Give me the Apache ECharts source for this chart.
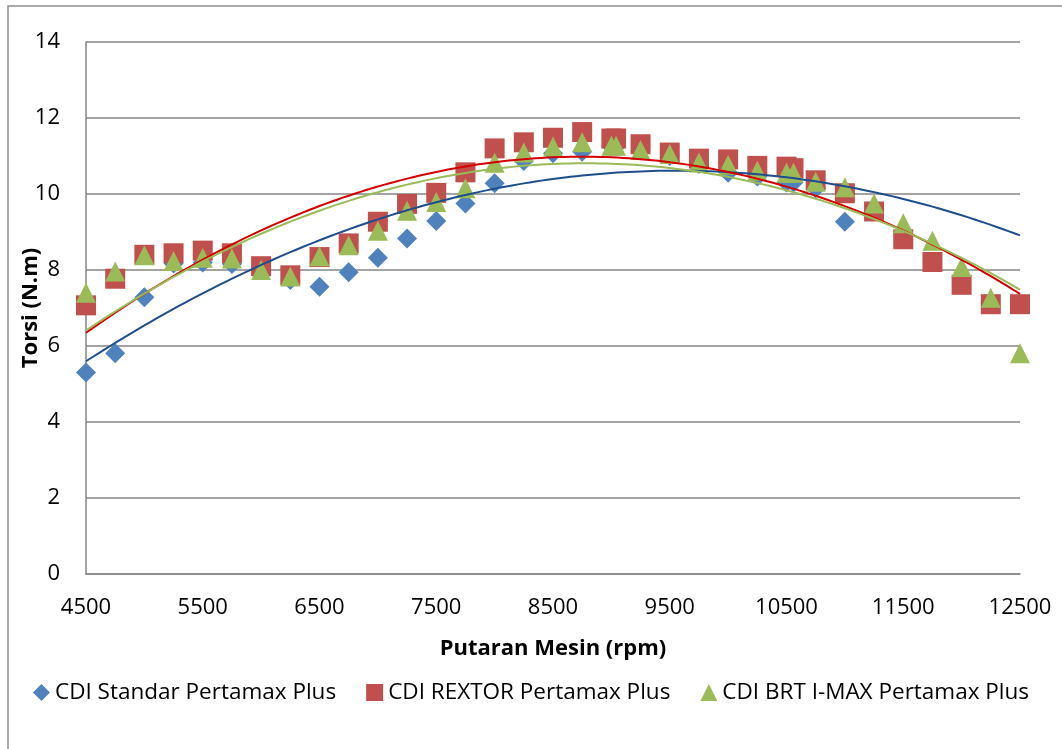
<!DOCTYPE html>
<html>
<head>
<meta charset="utf-8">
<script src="https://cdn.jsdelivr.net/npm/echarts@6/dist/echarts.min.js"></script>
<style>
  html, body { margin: 0; padding: 0; background: #ffffff; }
  #chart { width: 1062px; height: 749px; }
</style>
</head>
<body>
<div id="chart"></div>
<script>
// Engine speed (rpm) for each measurement
const rpmStandar = [4500, 4750, 5000, 5250, 5500, 5750, 6000, 6250, 6500, 6750, 7000, 7250, 7500, 7750,
  8000, 8250, 8500, 8750, 9000, 9040, 9250, 9500, 9750, 10000, 10250, 10500, 10560, 10750, 11000];
const rpmFull = [4500, 4750, 5000, 5250, 5500, 5750, 6000, 6250, 6500, 6750, 7000, 7250, 7500, 7750,
  8000, 8250, 8500, 8750, 9000, 9040, 9250, 9500, 9750, 10000, 10250, 10500, 10560, 10750, 11000,
  11250, 11500, 11750, 12000, 12250, 12500];

// Torque (N.m)
const torsiStandar = [5.30, 5.81, 7.28, 8.17, 8.20, 8.16, 8.02, 7.74, 7.56, 7.94, 8.32, 8.83, 9.29, 9.75,
  10.28, 10.87, 11.07, 11.11, 11.25, 11.25, 11.15, 11.00, 10.79, 10.56, 10.46, 10.30, 10.30, 10.15, 9.27];
const torsiRextor = [7.07, 7.77, 8.40, 8.44, 8.51, 8.44, 8.10, 7.86, 8.34, 8.70, 9.27, 9.74, 10.03, 10.57,
  11.20, 11.36, 11.48, 11.63, 11.46, 11.46, 11.31, 11.09, 10.93, 10.91, 10.74, 10.72, 10.68, 10.36, 10.02,
  9.54, 8.81, 8.21, 7.61, 7.10, 7.10];
const torsiBrt = [7.40, 7.96, 8.39, 8.24, 8.32, 8.30, 8.00, 7.83, 8.36, 8.65, 9.03, 9.56, 9.79, 10.15,
  10.82, 11.09, 11.25, 11.36, 11.27, 11.27, 11.16, 11.05, 10.83, 10.77, 10.61, 10.56, 10.56, 10.32, 10.18,
  9.75, 9.23, 8.77, 8.08, 7.27, 5.81];

const seriesNames = ['CDI Standar Pertamax Plus', 'CDI REXTOR Pertamax Plus', 'CDI BRT I-MAX Pertamax Plus'];
const xTickLabels = [4500, 5500, 6500, 7500, 8500, 9500, 10500, 11500, 12500];
const yTickLabels = [0, 2, 4, 6, 8, 10, 12, 14];

// Second-order least-squares fit, evaluated across the axis range
function polyTrend(xs, ys, from, to, step) {
  const s = [0, 0, 0, 0, 0], t = [0, 0, 0];
  xs.forEach((xv, i) => {
    const x = xv / 1000;
    let p = 1;
    for (let k = 0; k < 5; k++) { s[k] += p; if (k < 3) t[k] += p * ys[i]; p *= x; }
  });
  const A = [[s[0], s[1], s[2], t[0]], [s[1], s[2], s[3], t[1]], [s[2], s[3], s[4], t[2]]];
  for (let c = 0; c < 3; c++) {
    for (let r = c + 1; r < 3; r++) {
      const f = A[r][c] / A[c][c];
      for (let k = c; k < 4; k++) A[r][k] -= f * A[c][k];
    }
  }
  const b = [0, 0, 0];
  for (let r = 2; r >= 0; r--) {
    let v = A[r][3];
    for (let k = r + 1; k < 3; k++) v -= A[r][k] * b[k];
    b[r] = v / A[r][r];
  }
  const out = [];
  for (let xv = from; xv <= to; xv += step) {
    const x = xv / 1000;
    out.push([xv, b[0] + b[1] * x + b[2] * x * x]);
  }
  return out;
}

const pairs = (xs, ys) => xs.map((x, i) => [x, ys[i]]);

const FONT = '"Open Sans", "Noto Sans", sans-serif';

const chart = echarts.init(document.getElementById('chart'), null, { renderer: 'canvas' });

chart.setOption({
  backgroundColor: '#ffffff',
  animation: false,
  textStyle: { fontFamily: FONT, color: '#000000' },
  graphic: [{
    type: 'rect',
    silent: true,
    shape: { x: 8, y: 6, width: 1200, height: 900 },
    style: { fill: 'none', stroke: '#8e8e8e', lineWidth: 1.5 }
  }],
  grid: { left: 86, right: 42, top: 42, bottom: 175, containLabel: false, outerBoundsMode: 'none' },
  legend: {
    data: seriesNames,
    bottom: 40,
    left: 'center',
    itemWidth: 17,
    itemHeight: 17,
    itemGap: 30,
    textStyle: { fontFamily: FONT, fontSize: 22.5, color: '#000000' }
  },
  xAxis: {
    type: 'value',
    min: 4500,
    max: 12500,
    name: 'Putaran Mesin (rpm)',
    nameLocation: 'middle',
    nameGap: 64,
    nameMoveOverlap: false,
    nameTextStyle: { fontFamily: FONT, fontSize: 22, fontWeight: 'bold', color: '#000000' },
    axisLine: { show: true, onZero: false, lineStyle: { color: '#868686', width: 1.5 } },
    axisTick: { show: false },
    splitLine: { show: false },
    axisLabel: {
      customValues: xTickLabels,
      formatter: (v) => String(v),
      margin: 23,
      fontFamily: FONT, fontSize: 22, color: '#000000'
    }
  },
  yAxis: {
    type: 'value',
    min: 0,
    max: 14,
    interval: 2,
    name: 'Torsi (N.m)',
    nameLocation: 'middle',
    nameGap: 44,
    nameMoveOverlap: false,
    nameRotate: 90,
    nameTextStyle: { fontFamily: FONT, fontSize: 22, fontWeight: 'bold', color: '#000000' },
    axisLine: { show: true, lineStyle: { color: '#868686', width: 1.5 } },
    axisTick: { show: false },
    splitLine: { show: true, lineStyle: { color: '#868686', width: 1.5 } },
    axisLabel: {
      customValues: yTickLabels,
      formatter: (v) => String(v),
      margin: 26,
      fontFamily: FONT, fontSize: 22, color: '#000000'
    }
  },
  series: [
    {
      name: seriesNames[0], type: 'scatter', symbol: 'diamond', symbolSize: 20,
      itemStyle: { color: '#4f81bd', opacity: 1 },
      data: pairs(rpmStandar, torsiStandar), z: 2
    },
    {
      name: seriesNames[1], type: 'scatter', symbol: 'rect', symbolSize: 20,
      itemStyle: { color: '#c0504d', opacity: 1 },
      data: pairs(rpmFull, torsiRextor), z: 3
    },
    {
      name: seriesNames[2], type: 'scatter', symbol: 'triangle', symbolSize: 20,
      itemStyle: { color: '#9bbb59', opacity: 1 },
      data: pairs(rpmFull, torsiBrt), z: 4
    },
    {
      name: 'trend-standar', type: 'line', showSymbol: false, silent: true, z: 5,
      lineStyle: { color: '#1f4e8c', width: 2 },
      data: polyTrend(rpmStandar, torsiStandar, 4500, 12500, 50)
    },
    {
      name: 'trend-rextor', type: 'line', showSymbol: false, silent: true, z: 5,
      lineStyle: { color: '#d40000', width: 2 },
      data: polyTrend(rpmFull, torsiRextor, 4500, 12500, 50)
    },
    {
      name: 'trend-brt', type: 'line', showSymbol: false, silent: true, z: 6,
      lineStyle: { color: '#9bbb59', width: 2 },
      data: polyTrend(rpmFull, torsiBrt, 4500, 12500, 50)
    }
  ]
});
</script>
</body>
</html>
